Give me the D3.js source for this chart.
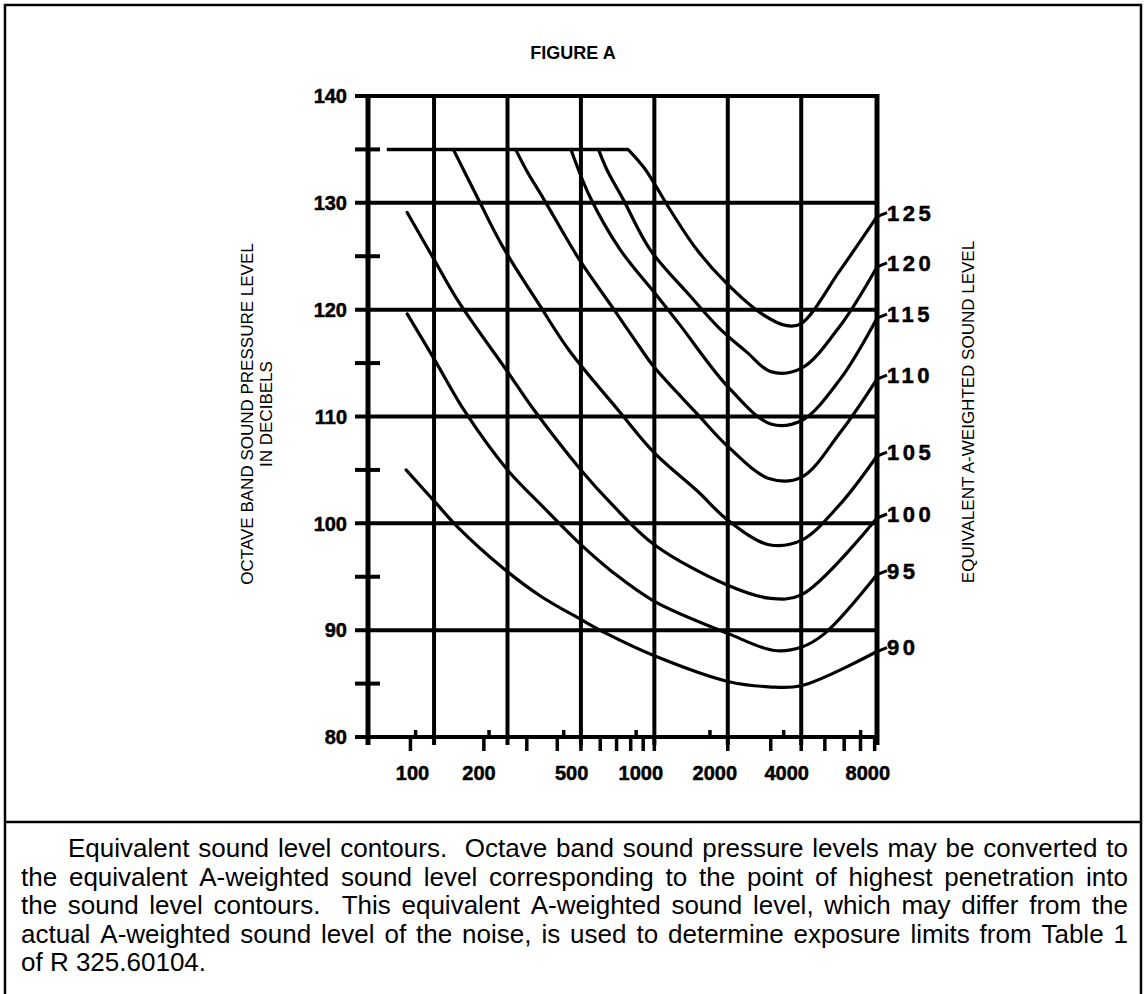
<!DOCTYPE html>
<html>
<head>
<meta charset="utf-8">
<script src="https://cdn.jsdelivr.net/npm/d3@7"></script>
<style>
    body { margin: 0; background: #fff; }
    text { fill: #000; }
    .hand { font-family: "Liberation Sans", Arial, sans-serif; font-weight: bold; stroke: #000; stroke-width: 0.5px; }
    .plain { font-family: "Liberation Sans", Arial, sans-serif; }
</style>
</head>
<body>
<div id="chart"></div>
<script>
//contours, [octave band centre Hz, octave band level dB]
const c90 = [[96, 105], [125, 102.1], [157, 99.6], [243, 95.7], [341, 93.2], [500, 91], [647, 89.6], [1000, 87.6], [2000, 85.2], [2950, 84.7], [4000, 84.8], [8180, 88]];
const c95 = [[97, 119.6], [125, 115.4], [168, 110.4], [250, 105], [341, 101.8], [500, 98], [669, 95.5], [1000, 92.7], [2000, 89.7], [3100, 88.1], [4000, 88.4], [5000, 89.7], [8180, 95.2]];
const c100 = [[97, 129.1], [125, 124.7], [157, 120.8], [250, 114.2], [319, 110.7], [500, 105], [669, 101.8], [1000, 98], [2000, 94.2], [2950, 93], [4000, 93.3], [8180, 100.5]];
const c105 = [[150, 135], [165, 133.1], [193, 130], [239, 125.9], [341, 120.3], [447, 116.2], [717, 110.5], [1000, 106.6], [1505, 103], [2000, 100.3], [2950, 98], [4000, 98.4], [5780, 101.8], [8180, 106.3]];
const c110 = [[270, 135], [298, 133.1], [353, 130.3], [492, 124.7], [669, 120.3], [847, 116.9], [1000, 114.6], [1505, 110.2], [2000, 107.2], [2950, 104.2], [4000, 104.3], [5780, 108.5], [8180, 113.5]];
const c115 = [[455, 135], [546, 130.5], [725, 125.6], [1000, 121.6], [1270, 118.6], [2000, 112.8], [3000, 109.3], [4000, 109.6], [5780, 113.5], [8180, 119.2]];
const c120 = [[590, 135], [639, 133.1], [746, 130.3], [962, 125.6], [1400, 121.3], [1840, 118.3], [2400, 116], [3000, 114.2], [4000, 114.5], [5780, 118.5], [8180, 124]];
const c125 = [[780, 135], [906, 133.3], [1025, 131.4], [1157, 129.4], [1495, 125.6], [1970, 122.5], [2760, 119.6], [3490, 118.5], [4000, 118.7], [5780, 123.7], [8180, 128.7]];

const contourLevels = [90, 95, 100, 105, 110, 115, 120, 125];
const contours = [c90, c95, c100, c105, c110, c115, c120, c125];

//the 135 dB cap that the upper contours leave from
const capLine = [[80, 135], [780, 135]];

//axes
const freqDomain = [67, 8180];
const gridFreqs = [125, 250, 500, 1000, 2000, 4000];
const yMajor = [80, 90, 100, 110, 120, 130, 140];
const yMinor = [85, 95, 105, 115, 125, 135];
const xLabels = ["100", "200", "500", "1000", "2000", "4000", "8000"];
const xLabelAt = [102, 191, 458, 880, 1770, 3490, 7500];
const xUpTicks = [105, 210, 425, 842, 1690, 3390, 7010];

const titleText = "FIGURE A";
const yTitle = ["OCTAVE BAND SOUND PRESSURE LEVEL", "IN DECIBELS"];
const yTitleRight = "EQUIVALENT A-WEIGHTED SOUND LEVEL";
const captionLines = [
    "Equivalent sound level contours.  Octave band sound pressure levels may be converted to",
    "the equivalent A-weighted sound level corresponding to the point of highest penetration into",
    "the sound level contours.  This equivalent A-weighted sound level, which may differ from the",
    "actual A-weighted sound level of the noise, is used to determine exposure limits from Table 1",
    "of R 325.60104.",
];

//svg size
const width = 1146;
const height = 994;

const svg = d3.select("#chart").append("svg")
    .attr("width", width)
    .attr("height", height);

//frame
svg.append("rect")
    .attr("x", 5).attr("y", 5)
    .attr("width", width - 10).attr("height", height + 20)
    .attr("fill", "none").attr("stroke", "#000").attr("stroke-width", 2.5);
svg.append("line")
    .attr("x1", 5).attr("x2", width - 5)
    .attr("y1", 822).attr("y2", 822)
    .attr("stroke", "#000").attr("stroke-width", 2.5);

svg.append("text")
    .attr("class", "plain")
    .attr("font-weight", "bold")
    .attr("x", 573).attr("y", 59)
    .attr("text-anchor", "middle")
    .attr("font-size", 18)
    .text(titleText);

//scales
const x = d3.scaleLog().domain(freqDomain).range([368, 877]);
const y = d3.scaleLinear().domain([80, 140]).range([737, 96]);

const plot = svg.append("g");

//horizontal grid
plot.selectAll("line.hgrid").data(yMajor).join("line")
    .attr("class", "hgrid")
    .attr("x1", 355).attr("x2", x(freqDomain[1]))
    .attr("y1", (d) => y(d)).attr("y2", (d) => y(d))
    .attr("stroke", "#000").attr("stroke-width", 4);

//minor y ticks
plot.selectAll("line.yminor").data(yMinor).join("line")
    .attr("class", "yminor")
    .attr("x1", 355).attr("x2", 380)
    .attr("y1", (d) => y(d)).attr("y2", (d) => y(d))
    .attr("stroke", "#000").attr("stroke-width", 4);

//vertical grid
plot.selectAll("line.vgrid").data(gridFreqs).join("line")
    .attr("class", "vgrid")
    .attr("x1", (d) => x(d)).attr("x2", (d) => x(d))
    .attr("y1", y(140) - 2).attr("y2", y(80) + 8)
    .attr("stroke", "#000").attr("stroke-width", 4);

//left and right axis
plot.selectAll("line.axis").data(freqDomain).join("line")
    .attr("class", "axis")
    .attr("x1", (d) => x(d)).attr("x2", (d) => x(d))
    .attr("y1", y(140) - 2).attr("y2", y(80) + 8)
    .attr("stroke", "#000").attr("stroke-width", 5);

//bottom ticks
const downTicks = x.ticks().filter((d) => d >= 100 && d <= 8000);
plot.selectAll("line.xdown").data(downTicks).join("line")
    .attr("class", "xdown")
    .attr("x1", (d) => x(d)).attr("x2", (d) => x(d))
    .attr("y1", y(80)).attr("y2", y(80) + 14)
    .attr("stroke", "#000").attr("stroke-width", 3.5);
plot.selectAll("line.xup").data(xUpTicks).join("line")
    .attr("class", "xup")
    .attr("x1", (d) => x(d)).attr("x2", (d) => x(d))
    .attr("y1", y(80)).attr("y2", y(80) - 7)
    .attr("stroke", "#000").attr("stroke-width", 3.5);

//tick labels
plot.selectAll("text.ylabel").data(yMajor).join("text")
    .attr("class", "ylabel hand")
    .attr("x", 347).attr("y", (d) => y(d))
    .attr("dy", "0.36em")
    .attr("text-anchor", "end")
    .attr("font-size", 20)
    .text((d) => d);

plot.selectAll("text.xlabel").data(xLabels).join("text")
    .attr("class", "xlabel hand")
    .attr("x", (d, i) => x(xLabelAt[i])).attr("y", 780)
    .attr("text-anchor", "middle")
    .attr("font-size", 20)
    .text((d) => d);

//contours
const line = d3.line()
    .x((d) => x(d[0]))
    .y((d) => y(d[1]))
    .curve(d3.curveCatmullRom.alpha(0.5));

plot.append("path")
    .datum(capLine)
    .attr("d", line)
    .attr("fill", "none").attr("stroke", "#000").attr("stroke-width", 3.5);

plot.selectAll("path.contour").data(contours).join("path")
    .attr("class", "contour")
    .attr("d", line)
    .attr("fill", "none")
    .attr("stroke", "#000")
    .attr("stroke-width", 3.2)
    .attr("stroke-linecap", "round");

//contour labels at the right axis
const ends = contours.map((c) => c[c.length - 1][1]);
plot.selectAll("line.leader").data(ends).join("line")
    .attr("class", "leader")
    .attr("x1", x(freqDomain[1])).attr("x2", x(freqDomain[1]) + 10)
    .attr("y1", (d) => y(d)).attr("y2", (d) => y(d) - 4)
    .attr("stroke", "#000").attr("stroke-width", 3);
plot.selectAll("text.clabel").data(contourLevels).join("text")
    .attr("class", "clabel hand")
    .attr("x", x(freqDomain[1]) + 10)
    .attr("y", (d, i) => y(ends[i]) - 4)
    .attr("dy", "0.36em")
    .attr("font-size", 22)
    .attr("letter-spacing", 3.5)
    .text((d) => d);

//axis titles
const leftTitle = svg.append("text")
    .attr("class", "plain")
    .attr("transform", "translate(253,414) rotate(-90)")
    .attr("text-anchor", "middle")
    .attr("font-size", 17);
yTitle.forEach((t, i) => {
    leftTitle.append("tspan").attr("x", 0).attr("y", i * 19).text(t);
});

svg.append("text")
    .attr("class", "plain")
    .attr("transform", "translate(974,412) rotate(-90)")
    .attr("text-anchor", "middle")
    .attr("font-size", 17)
    .text(yTitleRight);

//caption, justified
const capLeft = 21;
const capRight = 1128;
const capIndent = 47;
const capFont = 26;
captionLines.forEach((str, li) => {
    const words = str.split(" ");
    const t = svg.append("text")
        .attr("class", "plain")
        .attr("font-size", capFont)
        .attr("y", 857 + li * 28.5);
    const start = capLeft + (li === 0 ? capIndent : 0);
    if (li === captionLines.length - 1) {
        t.attr("x", start).text(str);
        return;
    }
    //words and the gaps after them, a double space counts twice
    const tokens = [];
    words.forEach((w) => {
        if (w === "") tokens[tokens.length - 1].gap += 1;
        else tokens.push({ w, gap: 1 });
    });
    tokens[tokens.length - 1].gap = 0;
    const spans = tokens.map((tk) => t.append("tspan").text(tk.w));
    const widths = spans.map((s) => s.node().getComputedTextLength());
    const totalGap = d3.sum(tokens, (tk) => tk.gap);
    const unit = (capRight - start - d3.sum(widths)) / totalGap;
    let cx = start;
    spans.forEach((s, i) => {
        s.attr("x", cx);
        cx += widths[i] + tokens[i].gap * unit;
    });
});
</script>
</body>
</html>
